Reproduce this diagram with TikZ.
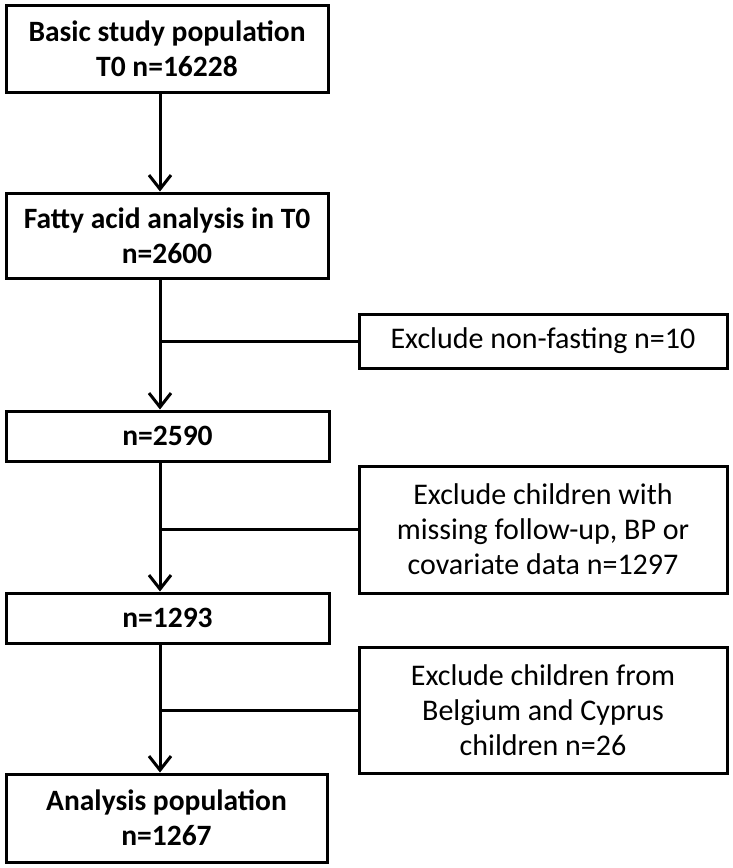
\documentclass[tikz,border=0pt]{standalone}
\usepackage{fontspec}
\setmainfont{Carlito}
\usetikzlibrary{arrows.meta}
\begin{document}
\begin{tikzpicture}[x=1pt,y=1pt,
  box/.style={draw=black,line width=3pt,inner sep=0pt,align=center,
    font=\fontsize{30}{35}\selectfont},
  mainbox/.style={box,font=\fontsize{29.5}{35}\selectfont\bfseries},
  conn/.style={line width=3pt,draw=black},
  arr/.style={conn,-{Straight Barb[length=14pt,width=22pt,line width=3pt]}}]
\useasboundingbox (0,0) rectangle (733,-868);
\coordinate (spine) at (160,0);
\node[mainbox,minimum width=322pt,minimum height=87pt] (b1) at (167,-48.5)
  {Basic study population\\T0 n=16228};
\node[mainbox,minimum width=322pt,minimum height=85pt] (b2) at (167,-235.5)
  {Fatty acid analysis in T0\\n=2600};
\node[mainbox,minimum width=323pt,minimum height=50pt] (b3) at (167.5,-436)
  {n=2590};
\node[mainbox,minimum width=323pt,minimum height=50pt] (b4) at (167.5,-618)
  {n=1293};
\node[mainbox,minimum width=321pt,minimum height=88pt] (b5) at (166.5,-818)
  {Analysis population\\n=1267};
\node[box,minimum width=368pt,minimum height=54pt] (r1) at (543,-341)
  {Exclude non-fasting n=10};
\node[box,minimum width=368pt,minimum height=127pt] (r2) at (543,-529.5)
  {Exclude children with\\missing follow-up, BP or\\covariate data n=1297};
\node[box,minimum width=368pt,minimum height=126pt] (r3) at (543,-710)
  {Exclude children from\\Belgium and Cyprus\\children n=26};
\draw[arr] (b1.south -| spine) -- (b2.north -| spine);
\draw[arr] (b2.south -| spine) -- (b3.north -| spine);
\draw[arr] (b3.south -| spine) -- (b4.north -| spine);
\draw[arr] (b4.south -| spine) -- (b5.north -| spine);
\draw[conn] (r1.west) -- (r1.west -| spine);
\draw[conn] (r2.west) -- (r2.west -| spine);
\draw[conn] (r3.west) -- (r3.west -| spine);
\end{tikzpicture}
\end{document}
